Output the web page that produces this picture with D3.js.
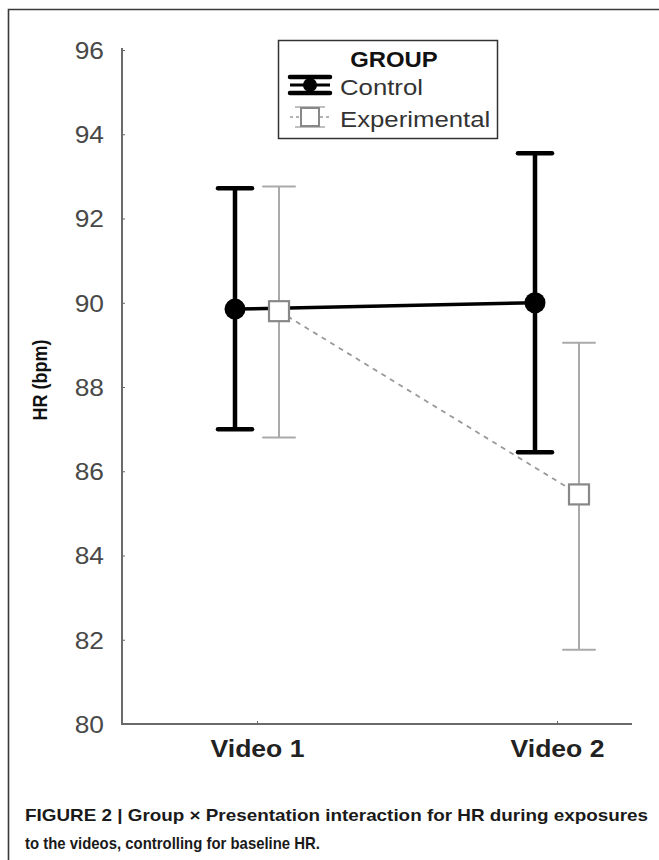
<!DOCTYPE html>
<html><head><meta charset="utf-8">
<script src="https://cdn.jsdelivr.net/npm/d3@7"></script>
<style>body{margin:0;background:#fff}svg{display:block}</style>
</head><body>
<script>
const categories = ["Video 1", "Video 2"];
const groups = ["Control", "Experimental"];
const controlMean = [89.85, 90.0];
const controlLow = [87.0, 86.45];
const controlHigh = [92.72, 93.55];
const expMean = [89.8, 85.45];
const expLow = [86.8, 81.76];
const expHigh = [92.76, 89.05];
const yTicks = [80, 82, 84, 86, 88, 90, 92, 94, 96];

const W = 659, H = 860;
const FONT = "Liberation Sans, Arial, sans-serif";
const svg = d3.select("body").append("svg").attr("width", W).attr("height", H);

function stretch(sel, k) {
  sel.each(function () {
    const len = this.getComputedTextLength();
    d3.select(this).attr("textLength", len * k).attr("lengthAdjust", "spacingAndGlyphs");
  });
}

// frame
svg.append("path").attr("d", `M8.5,${H} V9.5 H${W}`).attr("fill", "none").attr("stroke", "#3a3a3a").attr("stroke-width", 1.6);

const y = d3.scaleLinear().domain([80, 96]).range([724, 50]);
const x = d3.scalePoint().domain(categories).range([257, 557]);
const off = {Control: -22, Experimental: 22};
const xL = 122, xR = 632;

// axes
const yAxis = svg.append("g").attr("transform", `translate(${xL},0)`)
  .call(d3.axisRight(y).tickValues(yTicks).tickSize(3).tickFormat(d3.format("d")));
yAxis.select(".domain").remove();
yAxis.selectAll(".tick line").attr("stroke", "#666").attr("stroke-width", 1);
yAxis.selectAll(".tick text").attr("x", -18).attr("dy", "0.36em").attr("text-anchor", "end")
  .attr("font-family", FONT).attr("font-size", 23.5).attr("fill", "#484848");
stretch(yAxis.selectAll(".tick text"), 1.12);

const xAxis = svg.append("g").attr("transform", `translate(0,724)`)
  .call(d3.axisTop(x).tickSize(3).tickFormat(""));
xAxis.select(".domain").remove();
xAxis.selectAll(".tick line").attr("stroke", "#666");
const xt = xAxis.selectAll(".tick").append("text").attr("y", 33).attr("text-anchor", "middle")
  .attr("font-family", FONT).attr("font-size", 23.5).attr("font-weight", "bold")
  .attr("fill", "#222").text(d => d);
stretch(xt, 1.13);

svg.append("path").attr("d", `M${xL},48 V724 H${xR}`).attr("fill", "none").attr("stroke", "#6a6a6a").attr("stroke-width", 2);

// y label
svg.append("text").attr("transform", `translate(47,380) rotate(-90) scale(1,1.12)`).attr("text-anchor", "middle")
  .attr("font-family", FONT).attr("font-size", 18).attr("font-weight", "bold")
  .attr("fill", "#111").text("HR (bpm)");

// connecting lines
const line = d3.line().x(d => d[0]).y(d => d[1]);
svg.append("path").attr("d", line(categories.map((c, i) => [x(c) + off.Control, y(controlMean[i])])))
  .attr("stroke", "#000").attr("stroke-width", 3.5).attr("fill", "none");
svg.append("path").attr("d", line(categories.map((c, i) => [x(c) + off.Experimental, y(expMean[i])])))
  .attr("stroke", "#999").attr("stroke-width", 1.8).attr("stroke-dasharray", "5,5").attr("fill", "none");

// error bars
function errbar(g, cx, lo, hi, color, sw, cap) {
  g.append("line").attr("x1", cx).attr("x2", cx).attr("y1", y(lo)).attr("y2", y(hi)).attr("stroke", color).attr("stroke-width", sw);
  [lo, hi].forEach(v => g.append("line").attr("x1", cx - cap / 2).attr("x2", cx + cap / 2)
    .attr("y1", y(v)).attr("y2", y(v)).attr("stroke", color).attr("stroke-width", sw).attr("stroke-linecap", "round"));
}
const gE = svg.append("g"), gC = svg.append("g");
categories.forEach((c, i) => {
  errbar(gE, x(c) + off.Experimental, expLow[i], expHigh[i], "#aaa", 2, 32);
  errbar(gC, x(c) + off.Control, controlLow[i], controlHigh[i], "#000", 4.5, 34);
});
// markers
categories.forEach((c, i) => {
  svg.append("rect").attr("x", x(c) + off.Experimental - 10).attr("y", y(expMean[i]) - 10)
    .attr("width", 20).attr("height", 20).attr("fill", "#fff").attr("stroke", "#888").attr("stroke-width", 2.2);
  svg.append("circle").attr("cx", x(c) + off.Control).attr("cy", y(controlMean[i])).attr("r", 10.5).attr("fill", "#000");
});

// legend
const lg = svg.append("g");
lg.append("rect").attr("x", 278.5).attr("y", 40.5).attr("width", 219).attr("height", 98)
  .attr("fill", "#fff").attr("stroke", "#333").attr("stroke-width", 1.5);
const gt = lg.append("text").attr("x", 394).attr("y", 67).attr("text-anchor", "middle")
  .attr("font-family", FONT).attr("font-size", 21.5).attr("font-weight", "bold").attr("fill", "#111").text("GROUP");
stretch(gt, 1.11);
const rows = [{g: "Control", cy: 85}, {g: "Experimental", cy: 117}];
rows.forEach(r => {
  const sx = 310;
  if (r.g === "Control") {
    lg.append("line").attr("x1", sx).attr("x2", sx).attr("y1", r.cy - 8).attr("y2", r.cy + 8).attr("stroke", "#000").attr("stroke-width", 4);
    [-8, 8].forEach(d => lg.append("line").attr("x1", sx - 20).attr("x2", sx + 20).attr("y1", r.cy + d).attr("y2", r.cy + d)
      .attr("stroke", "#000").attr("stroke-width", 4.5).attr("stroke-linecap", "round"));
    lg.append("line").attr("x1", sx - 20).attr("x2", sx + 20).attr("y1", r.cy).attr("y2", r.cy).attr("stroke", "#000").attr("stroke-width", 3);
    lg.append("circle").attr("cx", sx).attr("cy", r.cy).attr("r", 7).attr("fill", "#000");
  } else {
    lg.append("line").attr("x1", sx - 20).attr("x2", sx + 20).attr("y1", r.cy).attr("y2", r.cy)
      .attr("stroke", "#999").attr("stroke-width", 1.5).attr("stroke-dasharray", "3,3");
    [-10, 10].forEach(d => lg.append("line").attr("x1", sx - 15).attr("x2", sx + 15).attr("y1", r.cy + d).attr("y2", r.cy + d)
      .attr("stroke", "#aaa").attr("stroke-width", 1.5));
    lg.append("line").attr("x1", sx).attr("x2", sx).attr("y1", r.cy - 10).attr("y2", r.cy + 10).attr("stroke", "#aaa").attr("stroke-width", 1.5);
    lg.append("rect").attr("x", sx - 9).attr("y", r.cy - 9).attr("width", 18).attr("height", 18)
      .attr("fill", "#fff").attr("stroke", "#888").attr("stroke-width", 2);
  }
  const t = lg.append("text").attr("x", 340).attr("y", r.cy + 10).attr("font-family", FONT)
    .attr("font-size", 22).attr("fill", "#333").text(r.g);
  stretch(t, 1.17);
});

// caption
const cap = svg.append("g").attr("font-family", FONT).attr("font-weight", "bold")
  .attr("font-size", 17).attr("fill", "#1a1a1a");
cap.append("text").attr("x", 25).attr("y", 821).attr("textLength", 623).attr("lengthAdjust", "spacingAndGlyphs")
  .text("FIGURE 2 | Group \u00d7 Presentation interaction for HR during exposures");
cap.append("text").attr("x", 25).attr("y", 849).attr("textLength", 295).attr("lengthAdjust", "spacingAndGlyphs")
  .text("to the videos, controlling for baseline HR.");
</script>
</body></html>
